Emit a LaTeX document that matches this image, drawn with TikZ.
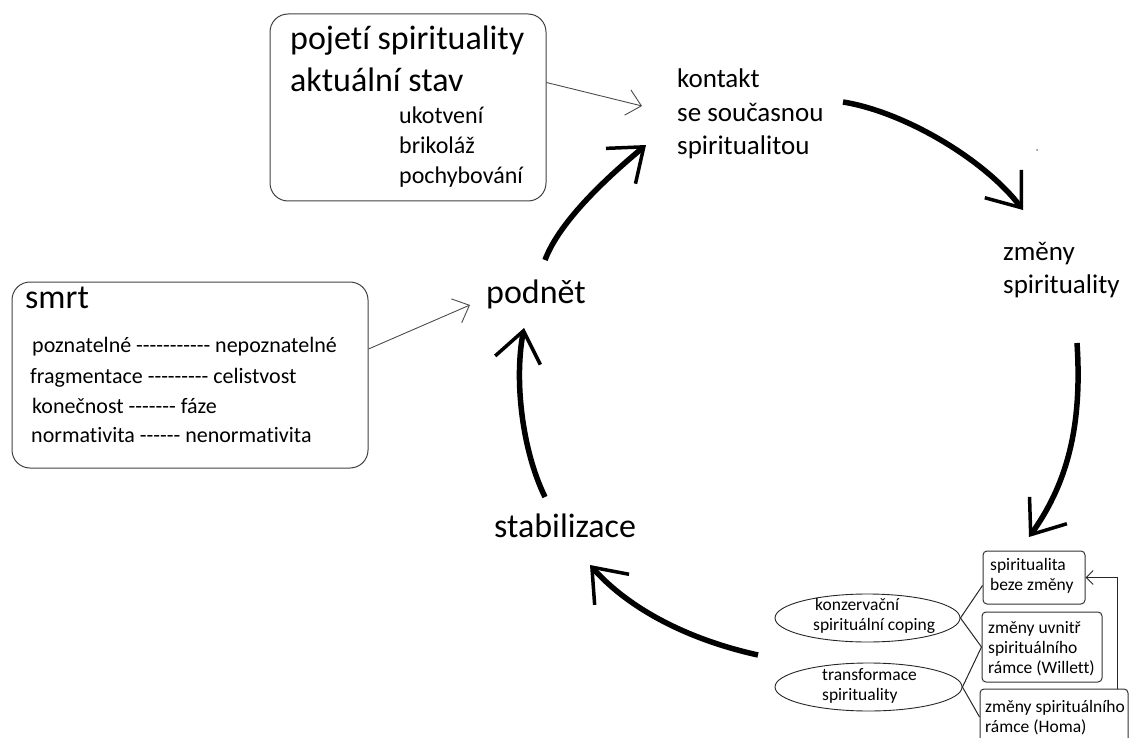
\documentclass[tikz,border=0pt]{standalone}
\usepackage{fontspec}
\setmainfont{Carlito}[Ligatures={NoCommon}]
\usetikzlibrary{arrows.meta,shapes.geometric}
\begin{document}
\begin{tikzpicture}[x=1pt,y=-1pt,
  txt/.style={anchor=base west, inner sep=0pt, font=\fontsize{#1}{#1}\selectfont},
  bigbox/.style={draw=black!75, line width=1pt, rounded corners=18pt, inner sep=0pt},
  smallbox/.style={draw=black!80, line width=1pt, rounded corners=4pt, inner sep=0pt},
  ell/.style={draw=black!85, line width=0.9pt, ellipse, inner sep=0pt},
  thinarrow/.style={draw=black!70, line width=0.9pt, -{Straight Barb[length=14pt,width=26pt,line width=0.9pt]}},
  bigarrow/.style={line width=5.5pt, -{Straight Barb[length=30pt,width=46pt,line width=3.5pt]}},
  link/.style={draw=black!85, line width=1pt}
]
\path[use as bounding box] (0,0) rectangle (1129,738);
\clip (0,0) rectangle (1129,738);

% top-left box
\node[bigbox, minimum width=276pt, minimum height=187pt] (pojbox) at (408,107.5) {};
\node[txt=34] (pojeti) at (290,50) {pojetí spirituality};
\node[txt=34] (aktualni) at (290,92) {aktuální stav};
\node[txt=24] (ukotveni) at (399,124) {ukotvení};
\node[txt=24] (brikolaz) at (399,154) {brikoláž};
\node[txt=24] (pochyb) at (399,183) {pochybování};

% smrt box
\node[bigbox, minimum width=356pt, minimum height=186pt] (smrtbox) at (190,375) {};
\node[txt=34] (smrt) at (25,308) {smrt};
\node[txt=22] (l1) at (32,352) {poznatelné -{}-{}-{}-{}-{}-{}-{}-{}-{}-{}- nepoznatelné};
\node[txt=22] (l2) at (30,383) {fragmentace -{}-{}-{}-{}-{}-{}-{}-{}- celistvost};
\node[txt=22] (l3) at (32,413) {konečnost -{}-{}-{}-{}-{}-{}- fáze};
\node[txt=22] (l4) at (31,442) {normativita -{}-{}-{}-{}-{}- nenormativita};

% cycle labels
\node[txt=27] (kontakt1) at (677,88) {kontakt};
\node[txt=27] (kontakt2) at (677,122) {se současnou};
\node[txt=27] (kontakt3) at (677,155) {spiritualitou};
\node[txt=27] (zmeny1) at (1003,260) {změny};
\node[txt=27] (zmeny2) at (1003,293) {spirituality};
\node[txt=34] (podnet) at (486,303) {podnět};
\node[txt=34] (stabil) at (494,537) {stabilizace};

% bottom right
\node[ell, minimum width=185pt, minimum height=48pt] (e1) at (867.5,618) {};
\node[ell, minimum width=187pt, minimum height=48pt] (e2) at (868.5,687) {};
\node[txt=17.5] (e1a) at (815,610) {konzervační};
\node[txt=17.5] (e1b) at (813,630) {spirituální coping};
\node[txt=17.5] (e2a) at (822,680) {transformace};
\node[txt=17.5] (e2b) at (822,700) {spirituality};

\node[smallbox, minimum width=102pt, minimum height=53pt] (b1) at (1034,577.5) {};
\node[smallbox, minimum width=120pt, minimum height=70pt] (b2) at (1042,647) {};
\node[smallbox, minimum width=148pt, minimum height=72pt] (b3) at (1054,725) {};
\node[txt=17.5] (b1a) at (990,570) {spiritualita};
\node[txt=17.5] (b1b) at (990,590) {beze změny};
\node[txt=17.5] (b2a) at (988,633) {změny uvnitř};
\node[txt=17.5] (b2b) at (988,653) {spirituálního};
\node[txt=17.5] (b2c) at (988,673) {rámce (Willett)};
\node[txt=17.5] (b3a) at (985,712) {změny spirituálního};
\node[txt=17.5] (b3b) at (985,732) {rámce (Homa)};

\draw[link] (e1.east) -- ([yshift=-8pt]b1.west);
\draw[link] (e1.east) -- (b2.west);
\draw[link] (e2.east) -- (b2.west);
\draw[link] (e2.east) -- ([yshift=8pt]b3.west);
\draw[draw=black!85, line width=1pt, -{Straight Barb[length=7pt,width=14pt,line width=1pt]}]
  ([xshift=-11pt]b3.north east) |- (b1.east);

% thin arrows
\coordinate (kin) at (642,106);
\coordinate (pin) at (470,305);
\draw[thinarrow] ([yshift=25pt]pojbox.east) -- (kin);
\draw[thinarrow] ([yshift=26pt]smrtbox.east) -- (pin);

% cycle arrows
\coordinate (a1s) at (545,260);
\coordinate (a1e) at (646,145);
\coordinate (a2s) at (843,102);
\coordinate (a2e) at (1023,210);
\coordinate (a3s) at (1077,343);
\coordinate (a3e) at (1029,537);
\coordinate (a4s) at (758,655);
\coordinate (a4e) at (590,565);
\coordinate (a5s) at (545,497);
\coordinate (a5e) at (524,328);
\draw[bigarrow] (a1s) .. controls (560,220) and (610,175) .. (a1e);
\draw[bigarrow] (a2s) .. controls (905,112) and (985,160) .. (a2e);
\draw[bigarrow] (a3s) .. controls (1082,420) and (1070,480) .. (a3e);
\draw[bigarrow] (a4s) .. controls (690,640) and (630,610) .. (a4e);
\draw[bigarrow] (a5s) .. controls (522,450) and (514,380) .. (a5e);

\fill[black!50] (1037,150) circle (1pt);
\end{tikzpicture}
\end{document}
